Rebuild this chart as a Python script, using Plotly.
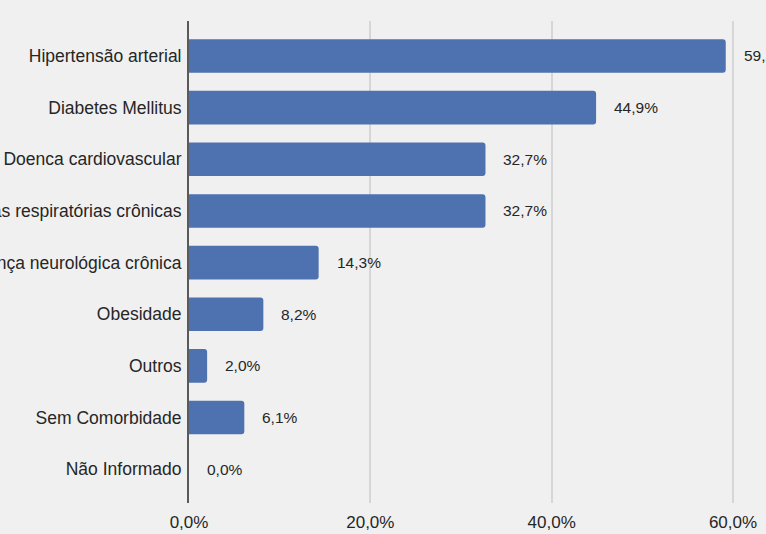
import plotly.graph_objects as go

categories = [
    "Hipertensão arterial",
    "Diabetes Mellitus",
    "Doenca cardiovascular",
    "Doenças respiratórias crônicas",
    "Doença neurológica crônica",
    "Obesidade",
    "Outros",
    "Sem Comorbidade",
    "Não Informado",
]
values = [59.2, 44.9, 32.7, 32.7, 14.3, 8.2, 2.0, 6.1, 0.0]
x_ticks = [0, 20, 40, 60]
x_tick_labels = ["0,0%", "20,0%", "40,0%", "60,0%"]

W, H = 766, 534
ML, MR, MT, MB = 189, 0, 21, 30.5
BG = "#f0f0f0"
TEXT = "#262626"
FONT = "Liberation Sans, Arial, sans-serif"

fig = go.Figure()
fig.add_trace(go.Bar(
    x=values,
    y=categories,
    orientation="h",
    width=0.65,
    marker=dict(color="#4e72b0", line=dict(width=0), cornerradius=3),
    hoverinfo="skip",
))

for v, c in zip(values, categories):
    fig.add_annotation(
        x=v, y=c, xref="x", yref="y",
        text=f"{v:.1f}".replace(".", ",") + "%",
        showarrow=False, xanchor="left", yanchor="middle",
        xshift=16, font=dict(size=15.5, color=TEXT, family=FONT),
    )

fig.update_layout(
    width=W, height=H,
    margin=dict(l=ML, r=MR, t=MT, b=MB, pad=0),
    paper_bgcolor=BG, plot_bgcolor=BG,
    showlegend=False,
    font=dict(family=FONT, size=17, color=TEXT),
    bargap=0.35,
)
fig.update_xaxes(
    range=[0, 63.64],
    tickvals=x_ticks, ticktext=x_tick_labels,
    showgrid=True, gridcolor="#d6d6d6", gridwidth=2,
    zeroline=False, showline=False,
    ticks="", ticklabelstandoff=7,
    tickfont=dict(size=17, color=TEXT),
    automargin=False, fixedrange=True,
)
fig.update_yaxes(
    categoryorder="array", categoryarray=categories,
    range=[8.654, -0.677],
    showgrid=False, zeroline=False,
    showline=True, linecolor="#5a5a5a", linewidth=2,
    ticks="", ticklabelstandoff=2,
    tickfont=dict(size=17.5, color=TEXT),
    automargin=False, fixedrange=True,
)

fig.write_html(
    "out.html",
    config={"displayModeBar": False},
    post_script="document.body.style.margin='0';document.body.style.overflow='hidden';document.body.style.background='#f0f0f0';",
)
